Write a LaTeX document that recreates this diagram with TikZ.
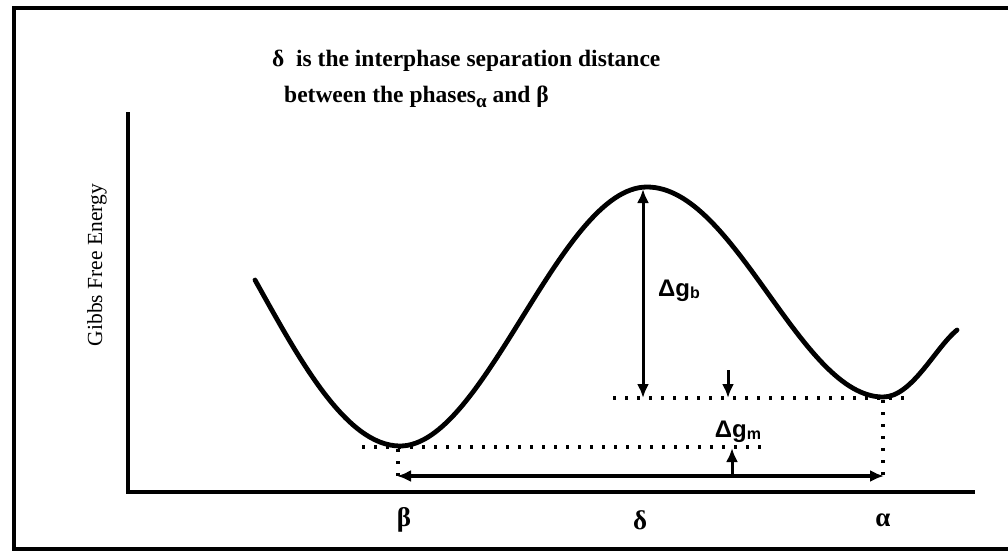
\documentclass[tikz,border=0pt]{standalone}
\usepackage{fontspec}
\setmainfont{Liberation Serif}
\newfontfamily\sansf{Liberation Sans}
\usetikzlibrary{arrows.meta}
\begin{document}
\begin{tikzpicture}[x=1pt,y=-1pt,
  curvestyle/.style={line width=4.8pt, line cap=round, line join=round},
  axisstyle/.style={line width=4pt},
  framestyle/.style={line width=3.5pt},
  dotstyle/.style={line width=3.4pt, dash pattern=on 2.5pt off 9.5pt},
  thinarrow/.style={line width=3pt},
  thickarrow/.style={line width=4.5pt},
  tipend/.style={-{Latex[length=14pt,width=12pt]}},
  tipboth/.style={{Latex[length=14pt,width=12pt]}-{Latex[length=14pt,width=12pt]}},
  titletext/.style={font=\bfseries\fontsize{23.5}{23.5}\selectfont, inner sep=0pt},
  greeklabel/.style={font=\bfseries\fontsize{27}{27}\selectfont, inner sep=0pt},
  dgtext/.style={font=\sansf\bfseries\fontsize{24}{24}\selectfont, inner sep=0pt},
]
\useasboundingbox (0,0) rectangle (1008,552);
% frame
\draw[framestyle] (1015,549) -- (14,549) -- (14,8) -- (1015,8);
% axes
\coordinate (ytop) at (128,112);
\coordinate (orig) at (128,492);
\coordinate (xend) at (975,492);
\draw[axisstyle] (ytop) -- (orig) -- (xend);
% curve
\coordinate (c0) at (255,280);
\coordinate (minb) at (400,446);
\coordinate (peak) at (647,187);
\coordinate (mina) at (883,397);
\coordinate (c4) at (957,330);
\draw[curvestyle] (c0) .. controls (297,355) and (345,446) .. (minb)
  .. controls (485,446) and (560,187) .. (peak)
  .. controls (735,187) and (800,397) .. (mina)
  .. controls (912,397) and (935,348) .. (c4);
% dotted guide lines
\coordinate (ud1) at (613,398);
\coordinate (ud2) at (907,398);
\coordinate (ld1) at (362,447);
\coordinate (ld2) at (767,447);
\draw[dotstyle] (ud1) -- (ud2);
\draw[dotstyle] (ld1) -- (ld2);
\coordinate (vb1) at (398,449);
\coordinate (vb2) at (398,484);
\coordinate (va1) at (883,400);
\coordinate (va2) at (883,480);
\draw[dotstyle] (vb1) -- (vb2);
\draw[dotstyle] (va1) -- (va2);
% delta g_b arrow
\coordinate (gbtop) at (643,189);
\coordinate (gbbot) at (643,398);
\draw[thinarrow, tipboth] (gbbot) -- (gbtop);
% small down arrow
\coordinate (sd1) at (728,370);
\coordinate (sd2) at (728,398);
\draw[thinarrow, tipend] (sd1) -- (sd2);
% horizontal double arrow
\coordinate (hb) at (397,476);
\coordinate (ha) at (884,476);
\draw[thickarrow, tipboth] (hb) -- (ha);
% small up arrow
\coordinate (su1) at (732,476);
\coordinate (su2) at (732,448);
\draw[thinarrow, tipend] (su1) -- (su2);
% texts
\node[titletext, anchor=base west] (t1) at (272,66) {δ\ \ is the interphase separation distance};
\node[titletext, anchor=base west] (t2) at (284,102) {between the phases\raisebox{-5pt}{\fontsize{19}{19}\selectfont α}\ and β};
\node[rotate=90, font=\fontsize{21.5}{21.5}\selectfont, inner sep=0pt] (ylab) at (97,265) {Gibbs Free Energy};
\node[dgtext] (dgb) at (679,291) {Δg\raisebox{-2pt}{\fontsize{16}{16}\selectfont b}};
\node[dgtext] (dgm) at (738,432) {Δg\raisebox{-2pt}{\fontsize{16}{16}\selectfont m}};
\node[greeklabel] (lb) at (404,520) {β};
\node[greeklabel] (ld) at (640,520) {δ};
\node[greeklabel] (la) at (883,520) {α};
\end{tikzpicture}
\end{document}
